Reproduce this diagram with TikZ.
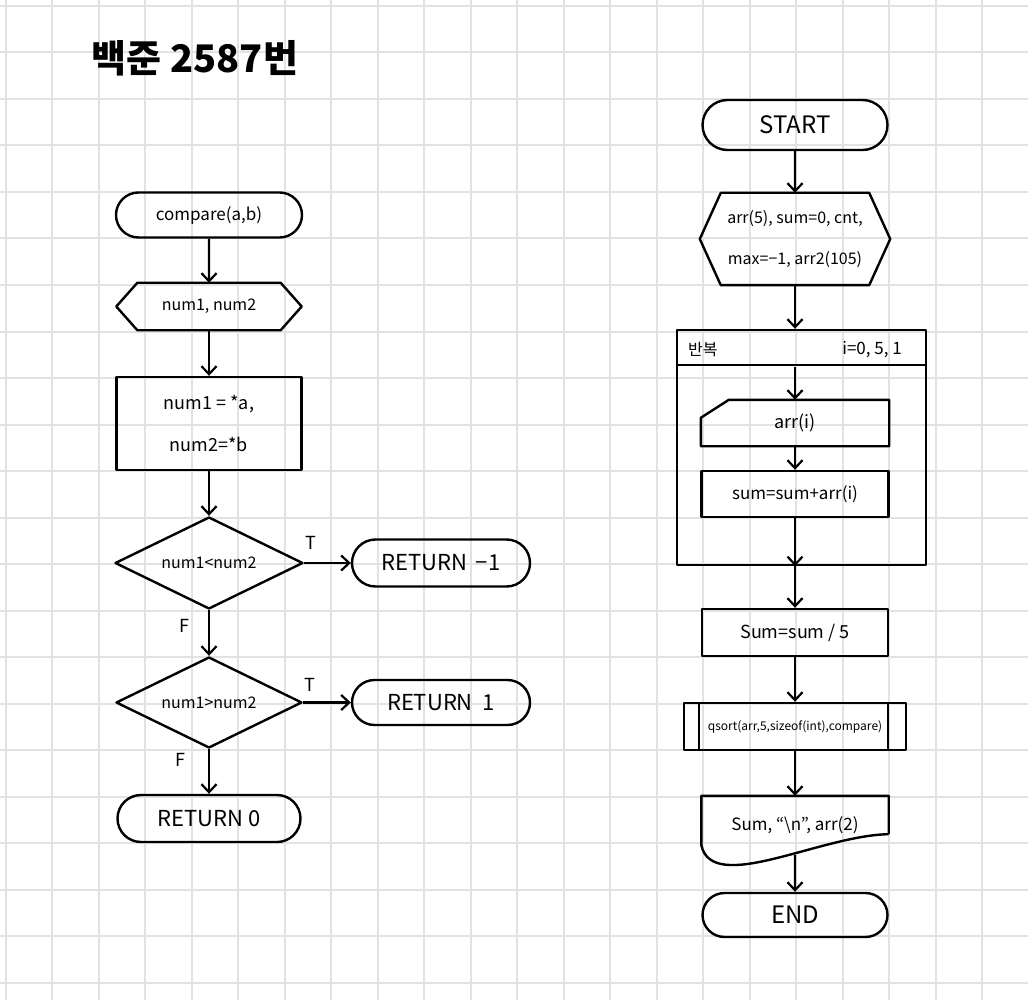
\documentclass[tikz,border=0pt]{standalone}
\usepackage{fontspec}
\newfontfamily\krfont{Noto Sans CJK KR}
\usetikzlibrary{shapes.geometric,shapes.misc,arrows.meta}
\definecolor{gridgray}{RGB}{226,226,226}
\newcommand{\fsz}[1]{\krfont\fontsize{#1}{#1}\selectfont}

\begin{document}
\begin{tikzpicture}[x=1pt,y=-1pt,line join=round,
  every node/.style={font=\fsz{16},inner sep=0pt},
  term/.style={draw,rounded rectangle,line width=2.4pt},
  proc/.style={draw,rectangle,line width=2.4pt},
  decide/.style={draw,diamond,aspect=2,line width=2.4pt},
  blank/.style={rectangle},
  outline/.style={line width=2.4pt},
  flow/.style={line width=2.2pt,-{Straight Barb[length=8pt,width=15pt]}}
]
\useasboundingbox (0,0) rectangle (1028,1000);

% Draw the squared paper
\foreach \i in {0,...,22}
  \draw[gridgray,line width=2pt] (5.5+46.5*\i,0) -- (5.5+46.5*\i,1000);
\foreach \j in {0,...,21}
  \draw[gridgray,line width=2pt] (0,6+46.5*\j) -- (1028,6+46.5*\j);

\node[font=\fsz{38}\bfseries] (title) at (195,58) {백준 2587번};

% compare(a,b)
\node[term,minimum width=186pt,minimum height=45pt,font=\fsz{17}] (cmp) at (209,215) {compare(a,b)};
\node[blank,minimum width=185pt,minimum height=47pt] (prep1) at (209,306.5) {num1, num2};
\node[proc,minimum width=185pt,minimum height=93pt,align=center,font=\fsz{18}] (asg) at (209,423.5) {num1 = *a,\\[24pt]num2=*b};
\node[decide,minimum width=188pt,minimum height=92pt] (dia1) at (209,563) {num1<num2};
\node[term,minimum width=178pt,minimum height=47pt,font=\fsz{22}] (ret1) at (441,563) {RETURN \,−1};
\node[decide,minimum width=186pt,minimum height=91pt] (dia2) at (209,702.5) {num1>num2};
\node[term,minimum width=178pt,minimum height=45pt,font=\fsz{22}] (ret2) at (441,702.5) {RETURN \ 1};
\node[term,minimum width=183pt,minimum height=47pt,font=\fsz{22}] (ret0) at (209,818.5) {RETURN 0};

\draw[flow] (cmp) -- (prep1);
\draw[flow] (prep1) -- (asg);
\draw[flow] (asg) -- (dia1);
\draw[flow] (dia1) -- node[at start,above=12pt,anchor=south west,font=\fsz{18}] {T} (ret1);
\draw[flow] (dia1) -- node[pos=0.35,left=18pt,font=\fsz{18}] {F} (dia2);
\draw[flow] (dia2) -- node[at start,above=10pt,anchor=south west,font=\fsz{18}] {T} (ret2);
\draw[flow] (dia2) -- node[pos=0.25,left=22pt,font=\fsz{18}] {F} (ret0);

% main
\node[term,minimum width=185pt,minimum height=50pt,font=\fsz{24}] (start) at (795,125) {START};
\node[blank,minimum width=190pt,minimum height=92pt,align=center,font=\fsz{16}] (prep2) at (795,239) {arr(5), sum=0, cnt,\\[24pt]max=−1, arr2(105)};
\node[proc,minimum width=249pt,minimum height=235pt] (loop) at (801.5,447.5) {};
\node[anchor=west] (looplbl) at (688,350) {반복};
\node[anchor=east,font=\fsz{17}] (looprng) at (902,350) {i=0, 5, 1};
\coordinate (loophead) at (795,367);
\node[blank,minimum width=188pt,minimum height=46pt,font=\fsz{18}] (inp) at (795,423) {arr(i)};
\node[proc,minimum width=187pt,minimum height=46pt,font=\fsz{17}] (sumadd) at (795,494) {sum=sum+arr(i)};
\node[proc,minimum width=186pt,minimum height=47pt,font=\fsz{18}] (avg) at (795,632.5) {Sum=sum / 5};
\node[proc,minimum width=222pt,minimum height=47pt,font=\fsz{12}] (qs) at (795,726.5) {qsort(arr,5,sizeof(int),compare)};
\node[blank,minimum width=187pt,minimum height=59pt,font=\fsz{17}] (out) at (795,825.5) {Sum, “\textbackslash n”, arr(2)};
\node[term,minimum width=185pt,minimum height=44pt,font=\fsz{24}] (end) at (795,915) {END};

% hexagons, card, document
\foreach \n in {prep1,prep2}
  \draw[outline] (\n.west) -- ([xshift=21pt]\n.north west) -- ([xshift=-21pt]\n.north east)
    -- (\n.east) -- ([xshift=-21pt]\n.south east) -- ([xshift=21pt]\n.south west) -- cycle;
\draw[outline] ([xshift=28pt]inp.north west) -- (inp.north east) -- (inp.south east)
  -- (inp.south west) -- ([yshift=-18pt]inp.north west) -- cycle;
\draw[outline] ([yshift=-36pt]loop.north west) -- ([yshift=-36pt]loop.north east);
\draw[outline] ([xshift=16pt]qs.north west) -- ([xshift=16pt]qs.south west);
\draw[outline] ([xshift=-19pt]qs.north east) -- ([xshift=-19pt]qs.south east);
\draw[outline] ([yshift=21pt]out.south east) -- (out.north east) -- (out.north west)
  -- ([yshift=10pt]out.south west)
  .. controls ([xshift=11pt,yshift=-40pt]out.south west) and ([xshift=-68pt,yshift=20pt]out.south east)
  .. ([yshift=21pt]out.south east);

\draw[flow] (start) -- (prep2);
\draw[flow] (prep2) -- (prep2 |- loop.north);
\draw[flow] (loophead) -- (inp);
\draw[flow] (inp) -- (sumadd);
\draw[flow] (sumadd) -- (sumadd |- loop.south);
\draw[flow] (sumadd |- loop.south) -- (avg);
\draw[flow] (avg) -- (qs);
\draw[flow] (qs) -- (out);
\draw[flow] (out) -- (end);

\end{tikzpicture}
\end{document}
